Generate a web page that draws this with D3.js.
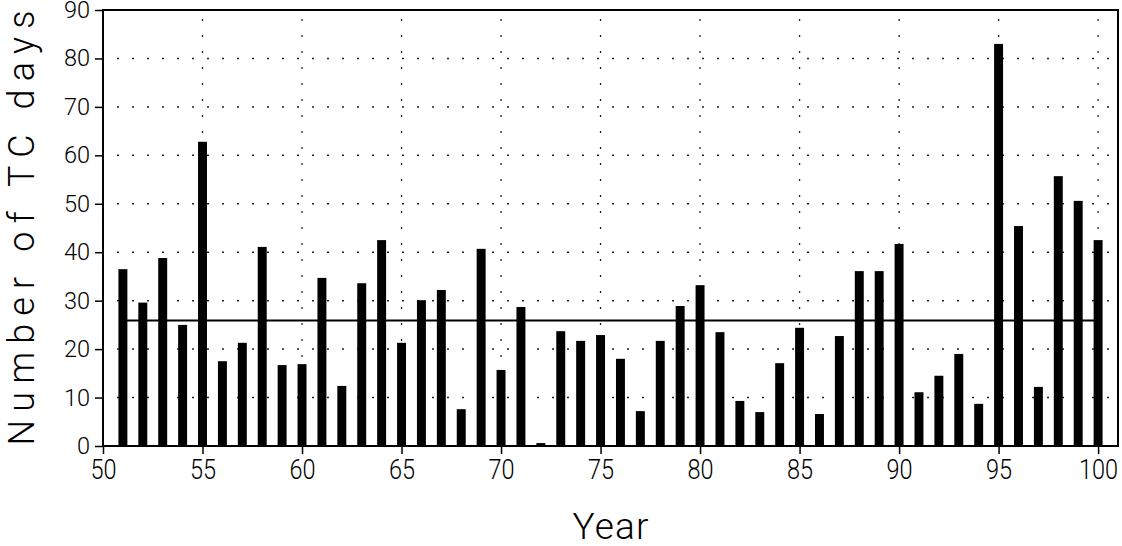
<!DOCTYPE html>
<html>
<head>
<meta charset="utf-8">
<script src="https://cdn.jsdelivr.net/npm/d3@7"></script>
<style>
  body { margin: 0; background: #fff; }
  text { font-family: Roboto, "Liberation Sans", sans-serif; font-weight: 300; fill: #000; }
</style>
</head>
<body>
<svg id="chart" width="1122" height="546"></svg>
<script>
// values
var years = [51, 52, 53, 54, 55, 56, 57, 58, 59, 60,
             61, 62, 63, 64, 65, 66, 67, 68, 69, 70,
             71, 72, 73, 74, 75, 76, 77, 78, 79, 80,
             81, 82, 83, 84, 85, 86, 87, 88, 89, 90,
             91, 92, 93, 94, 95, 96, 97, 98, 99, 100];
var tcDays = [36.5, 29.6, 38.8, 25.0, 62.8, 17.5, 21.3, 41.1, 16.7, 16.9,
              34.7, 12.4, 33.6, 42.5, 21.3, 30.1, 32.2, 7.6, 40.7, 15.7,
              28.7, 0.6, 23.7, 21.7, 22.9, 18.0, 7.2, 21.7, 28.9, 33.2,
              23.5, 9.3, 7.0, 17.1, 24.4, 6.6, 22.7, 36.1, 36.1, 41.7,
              11.1, 14.5, 19.0, 8.7, 83.0, 45.4, 12.2, 55.7, 50.6, 42.5];
var meanLine = 25.9;
var xTicks = [50, 55, 60, 65, 70, 75, 80, 85, 90, 95, 100];
var yTicks = [0, 10, 20, 30, 40, 50, 60, 70, 80, 90];
var xGrid = [55, 60, 65, 70, 75, 80, 85, 90, 95, 100];
var yGrid = [10, 20, 30, 40, 50, 60, 70, 80];

var svg = d3.select("#chart"),
    margin = {top: 10, right: 4, bottom: 100, left: 103},
    width = +svg.attr("width") - margin.left - margin.right,
    height = +svg.attr("height") - margin.top - margin.bottom;

var x = d3.scaleLinear().domain([50, 101]).range([0, width]),
    y = d3.scaleLinear().domain([0, 90]).range([height, 0]);

var g = svg.append("g")
    .attr("transform", "translate(" + margin.left + "," + margin.top + ")");

// dotted grid
g.selectAll(".hgrid").data(yGrid).enter().append("line")
    .attr("class", "hgrid")
    .attr("x1", 0).attr("x2", width)
    .attr("y1", function (d) { return y(d); })
    .attr("y2", function (d) { return y(d); })
    .attr("stroke", "#222").attr("stroke-width", 1.5)
    .attr("stroke-dasharray", "2,13").attr("stroke-dashoffset", -14);

g.selectAll(".vgrid").data(xGrid).enter().append("line")
    .attr("class", "vgrid")
    .attr("y1", 0).attr("y2", height)
    .attr("x1", function (d) { return x(d); })
    .attr("x2", function (d) { return x(d); })
    .attr("stroke", "#222").attr("stroke-width", 1.3)
    .attr("stroke-dasharray", "2,14").attr("stroke-dashoffset", -9);

// mean line
g.append("line")
    .attr("x1", x(years[0])).attr("x2", x(years[years.length - 1]))
    .attr("y1", y(meanLine)).attr("y2", y(meanLine))
    .attr("stroke", "#000").attr("stroke-width", 2);

// bars
var barW = x(50.45) - x(50);
g.selectAll(".bar").data(years).enter().append("rect")
    .attr("class", "bar")
    .attr("x", function (d) { return x(d) - barW / 2; })
    .attr("width", barW)
    .attr("y", function (d, i) { return y(tcDays[i]); })
    .attr("height", function (d, i) { return height - y(tcDays[i]); })
    .attr("fill", "#000");

// frame
g.append("rect")
    .attr("width", width).attr("height", height)
    .attr("fill", "none").attr("stroke", "#000").attr("stroke-width", 2);

// axes
var yAxis = d3.axisLeft(y).tickValues(yTicks).tickSize(8).tickPadding(5);
var xAxis = d3.axisBottom(x).tickValues(xTicks).tickSize(8).tickPadding(3);

var ya = g.append("g").call(yAxis);
ya.select(".domain").remove();
ya.selectAll("line").attr("stroke-width", 1.5);
ya.selectAll("text").style("font-size", "23.5px");

var xa = g.append("g").attr("transform", "translate(0," + height + ")").call(xAxis);
xa.select(".domain").remove();
xa.selectAll("line").attr("stroke-width", 1.5);
xa.selectAll("text")
    .style("font-size", "23.5px")
    .attr("dy", null)
    .attr("y", 0)
    .attr("transform", "translate(0,33) scale(1,1.18)");

// titles
svg.append("text")
    .attr("transform", "translate(34," + (margin.top + height / 2) + ") rotate(-90)")
    .attr("text-anchor", "middle")
    .attr("textLength", 435)
    .attr("lengthAdjust", "spacing")
    .style("font-size", "36px")
    .text("Number of TC days");

svg.append("text")
    .attr("x", margin.left + width / 2)
    .attr("y", 539)
    .attr("text-anchor", "middle")
    .attr("textLength", 76)
    .style("font-size", "37px")
    .text("Year");
</script>
</body>
</html>
